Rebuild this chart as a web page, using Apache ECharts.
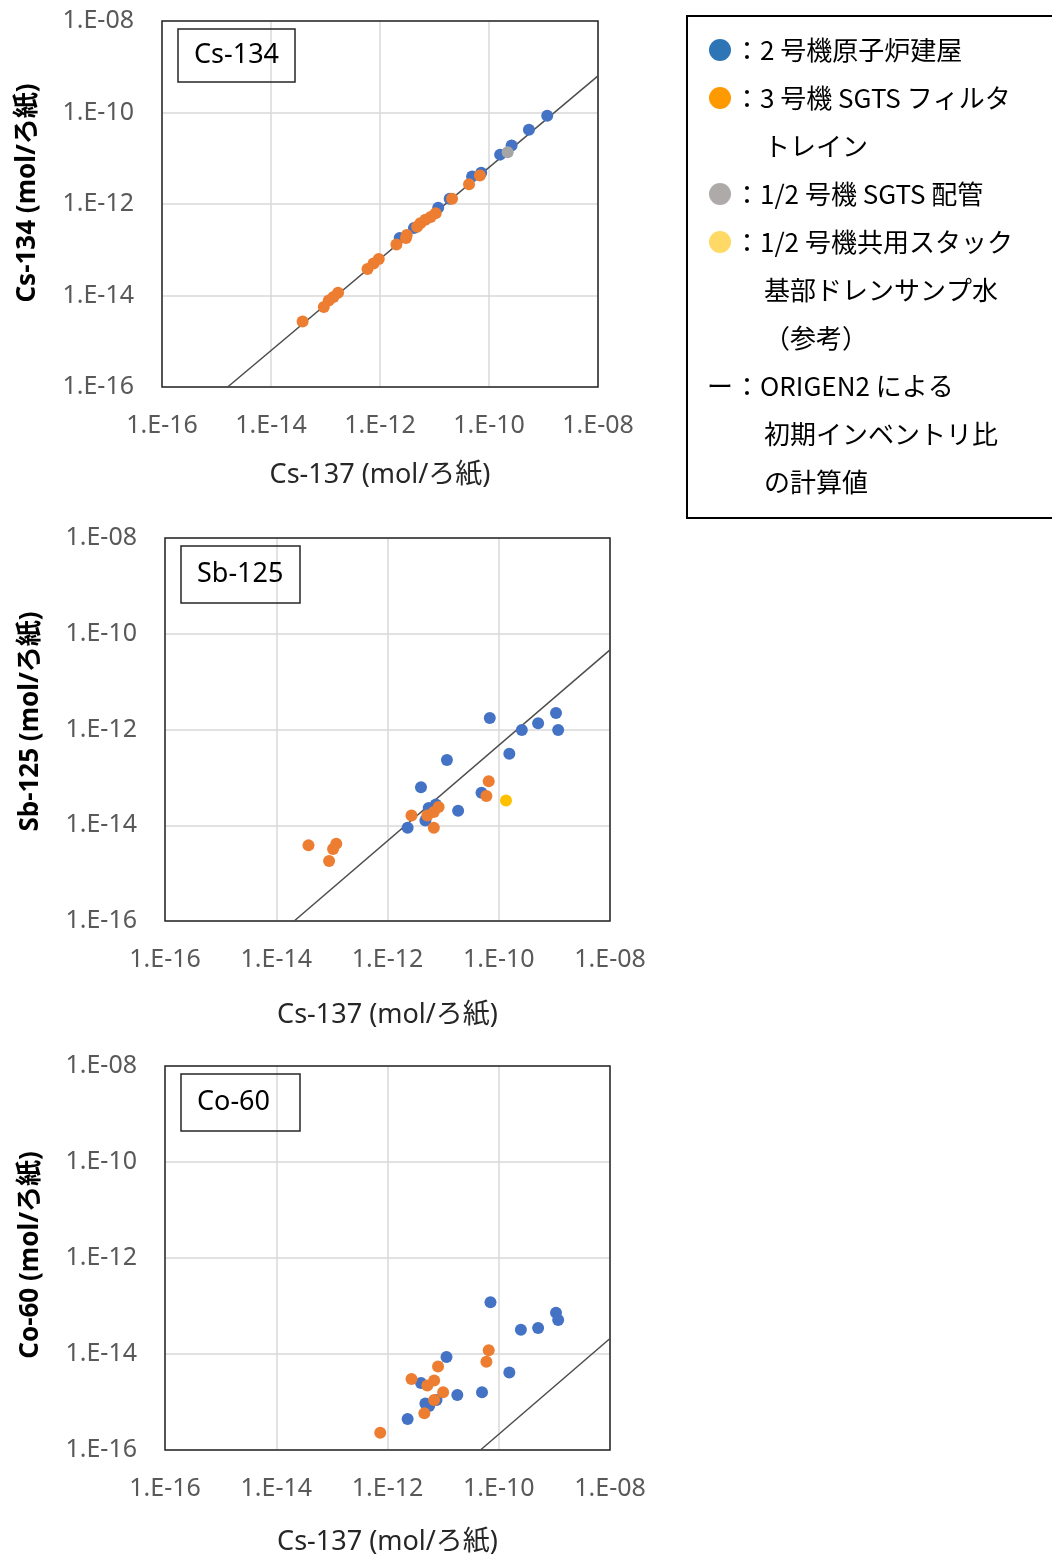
<!DOCTYPE html>
<html>
<head>
<meta charset="utf-8">
<script src="https://cdn.jsdelivr.net/npm/echarts@6/dist/echarts.min.js"></script>
<style>html,body{margin:0;padding:0;background:#fff;}#c{width:1052px;height:1558px;}</style>
</head>
<body>
<div id="c"></div>
<script>
// ---- Data (mol / filter paper) : [Cs-137, nuclide] ----
var cs134_unit2 = [[1.17e-9,8.5e-11],[5.4e-10,4.2e-11],[2.6e-10,1.9e-11],[1.6e-10,1.2e-11],[7.2e-11,4.8e-12],[4.9e-11,4.0e-12],[1.9e-11,1.3e-12],[1.17e-11,8.3e-13],[4.2e-12,3.0e-13],[2.3e-12,1.8e-13]];
var cs134_unit3 = [[6.8e-11,4.2e-12],[4.3e-11,2.7e-12],[2.1e-11,1.3e-12],[1.05e-11,6.3e-13],[8.5e-12,5.2e-13],[6.8e-12,4.5e-13],[5.5e-12,3.8e-13],[4.8e-12,3.2e-13],[3.1e-12,2.1e-13],[3.0e-12,1.8e-13],[2.0e-12,1.3e-13],[9.5e-13,6.3e-14],[7.6e-13,5.0e-14],[5.9e-13,3.8e-14],[1.7e-13,1.15e-14],[1.4e-13,9.3e-15],[1.15e-13,7.8e-15],[9.3e-14,5.6e-15],[3.8e-14,2.7e-15]];
var cs134_unit12pipe = [[2.2e-10,1.35e-11]];
var cs134_origen = [[1.6e-15,1e-16],[1e-8,6.3e-10]];

var sb125_unit2 = [[6.9e-11,1.74e-12],[2.6e-10,9.8e-13],[5.1e-10,1.35e-12],[1.07e-9,2.2e-12],[1.17e-9,9.8e-13],[1.55e-10,3.1e-13],[1.17e-11,2.3e-13],[4.0e-12,6.2e-14],[4.9e-11,4.8e-14],[1.86e-11,2.0e-14],[7.4e-12,2.7e-14],[5.5e-12,2.3e-14],[4.8e-12,1.26e-14],[2.3e-12,8.9e-15]];
var sb125_unit3 = [[6.6e-11,8.3e-14],[6.0e-11,4.1e-14],[2.7e-12,1.6e-14],[5.2e-12,1.6e-14],[6.8e-12,1.9e-14],[8.3e-12,2.4e-14],[6.8e-12,8.9e-15],[3.8e-14,3.8e-15],[1.2e-13,4.1e-15],[1.05e-13,3.2e-15],[8.9e-14,1.8e-15]];
var sb125_stack = [[1.35e-10,3.3e-14]];
var sb125_origen = [[2.1e-14,1e-16],[1e-8,4.6e-11]];

var co60_unit2 = [[7.1e-11,1.2e-13],[2.5e-10,3.2e-14],[5.1e-10,3.5e-14],[1.07e-9,7.2e-14],[1.17e-9,5.1e-14],[1.55e-10,4.1e-15],[1.15e-11,8.7e-15],[4.0e-12,2.5e-15],[5.0e-11,1.6e-15],[1.8e-11,1.4e-15],[7.6e-12,1.1e-15],[4.8e-12,9.3e-16],[5.6e-12,8.3e-16],[2.3e-12,4.4e-16]];
var co60_unit3 = [[6.6e-11,1.2e-14],[6.0e-11,6.9e-15],[8.1e-12,5.5e-15],[2.7e-12,3.0e-15],[6.9e-12,2.8e-15],[5.2e-12,2.2e-15],[1.0e-11,1.6e-15],[6.9e-12,1.1e-15],[4.6e-12,5.8e-16],[7.4e-13,2.3e-16]];
var co60_origen = [[4.7e-11,1e-16],[1e-8,2.1e-14]];

var panelNames = ['Cs-134','Sb-125','Co-60'];
var yTitles = ['Cs-134 (mol/ろ紙)','Sb-125 (mol/ろ紙)','Co-60 (mol/ろ紙)'];
var xTitle = 'Cs-137 (mol/ろ紙)';
var axisMin = 1e-16, axisMax = 1e-8;

var legendLines = [
  {mark:'#2E75B6', text:'：2 号機原子炉建屋'},
  {mark:'#FF9900', text:'：3 号機 SGTS フィルタ'},
  {mark:null, text:'トレイン', indent:true},
  {mark:'#AEAAAA', text:'：1/2 号機 SGTS 配管'},
  {mark:'#FFD966', text:'：1/2 号機共用スタック'},
  {mark:null, text:'基部ドレンサンプ水', indent:true},
  {mark:null, text:'（参考）', indent:true},
  {mark:'line', text:'：ORIGEN2 による'},
  {mark:null, text:'初期インベントリ比', indent:true},
  {mark:null, text:'の計算値', indent:true}
];

var C_BLUE = '#4472C4', C_ORANGE = '#ED7D31', C_GRAY = '#A5A5A5', C_YELLOW = '#FFC000';

var grids = [
  {left:162, top:21, width:436, height:366},
  {left:165, top:538, width:445, height:383},
  {left:165, top:1066, width:445, height:384}
];
var xNameGap = [75, 81, 79];
var yNameShift = [22, 16, 6];
var labelBox = [{w:84, h:31, pv:11}, {w:87, h:33, pv:12}, {w:87, h:33, pv:12}];

function fmt(v){
  var e = Math.round(Math.log10(v));
  var s = Math.abs(e);
  return '1.E' + (e < 0 ? '-' : '+') + (s < 10 ? '0' : '') + s;
}

var LATIN = '"Noto Sans", "Noto Sans CJK JP", sans-serif';
var xAxes = [], yAxes = [], titles = [];
grids.forEach(function(g, i){
  xAxes.push({
    type:'log', logBase:10, gridIndex:i, min:axisMin, max:axisMax, interval:2,
    name:xTitle, nameLocation:'middle', nameGap:xNameGap[i],
    nameTextStyle:{fontSize:27, color:'#262626', fontFamily:LATIN},
    axisLine:{show:false}, axisTick:{show:false},
    axisLabel:{formatter:fmt, fontSize:25, color:'#595959', margin:26, fontFamily:LATIN},
    splitLine:{show:true, lineStyle:{color:'#D9D9D9', width:1.5}}
  });
  yAxes.push({
    type:'log', logBase:10, gridIndex:i, min:axisMin, max:axisMax, interval:2,
    name:yTitles[i], nameLocation:'middle', nameGap:121, nameRotate:90,
    nameTextStyle:{fontSize:26, fontWeight:'bold', color:'#000', fontFamily:LATIN, padding:[0,0,0,yNameShift[i]]},
    axisLine:{show:false}, axisTick:{show:false},
    axisLabel:{formatter:fmt, fontSize:25, color:'#595959', margin:28, fontFamily:LATIN},
    splitLine:{show:true, lineStyle:{color:'#D9D9D9', width:1.5}}
  });
  titles.push({
    text:panelNames[i], left:g.left + 16, top:g.top + 8,
    borderColor:'#262626', borderWidth:1.5, padding:[labelBox[i].pv,16,labelBox[i].pv,16],
    textStyle:{fontSize:27, fontWeight:'normal', color:'#000', fontFamily:LATIN, lineHeight:labelBox[i].h,
      width:labelBox[i].w, height:labelBox[i].h}
  });
});

function scat(name, data, color, idx, z){
  return {type:'scatter', name:name, xAxisIndex:idx, yAxisIndex:idx, data:data, symbol:'circle', symbolSize:12,
    itemStyle:{color:color, opacity:1}, z:z, silent:true};
}
function line(data, idx){
  return {type:'line', xAxisIndex:idx, yAxisIndex:idx, data:data, showSymbol:false, symbol:'none',
    lineStyle:{color:'#4D4D4D', width:1.5}, z:3, silent:true, clip:true};
}

var series = [
  line(cs134_origen, 0),
  scat('2号機原子炉建屋', cs134_unit2, C_BLUE, 0, 4),
  scat('3号機SGTSフィルタトレイン', cs134_unit3, C_ORANGE, 0, 5),
  scat('1/2号機SGTS配管', cs134_unit12pipe, C_GRAY, 0, 6),
  line(sb125_origen, 1),
  scat('2号機原子炉建屋', sb125_unit2, C_BLUE, 1, 4),
  scat('3号機SGTSフィルタトレイン', sb125_unit3, C_ORANGE, 1, 5),
  scat('1/2号機共用スタック', sb125_stack, C_YELLOW, 1, 6),
  line(co60_origen, 2),
  scat('2号機原子炉建屋', co60_unit2, C_BLUE, 2, 4),
  scat('3号機SGTSフィルタトレイン', co60_unit3, C_ORANGE, 2, 5)
];

// legend box drawn as graphics
var JP = '"Noto Sans CJK JP", sans-serif';
var gfx = [{type:'rect', left:686, top:15, z:0, shape:{x:0,y:0,width:400,height:502},
  style:{fill:'#fff', stroke:'#000', lineWidth:2}}];
legendLines.forEach(function(l, k){
  var cy = 50 + k * 48;
  if (l.mark === 'line') {
    gfx.push({type:'text', x:707, y:cy, style:{text:'ー', font:'26px ' + JP, fill:'#000', verticalAlign:'middle'}});
  } else if (l.mark) {
    gfx.push({type:'circle', shape:{cx:720, cy:cy, r:11}, style:{fill:l.mark}});
  }
  gfx.push({type:'text', x: l.indent ? 764 : 734, y:cy,
    style:{text:l.text, font:'26px ' + JP, fill:'#000', verticalAlign:'middle'}});
});

var chart = echarts.init(document.getElementById('c'), null, {renderer:'canvas'});
chart.setOption({
  backgroundColor:'#fff',
  animation:false,
  title:titles,
  grid:grids.map(function(g){ return {left:g.left, top:g.top, width:g.width, height:g.height, show:true, z:2,
    borderColor:'#262626', borderWidth:1.5, backgroundColor:'transparent'}; }),
  xAxis:xAxes,
  yAxis:yAxes,
  series:series,
  graphic:gfx
});
</script>
</body>
</html>
